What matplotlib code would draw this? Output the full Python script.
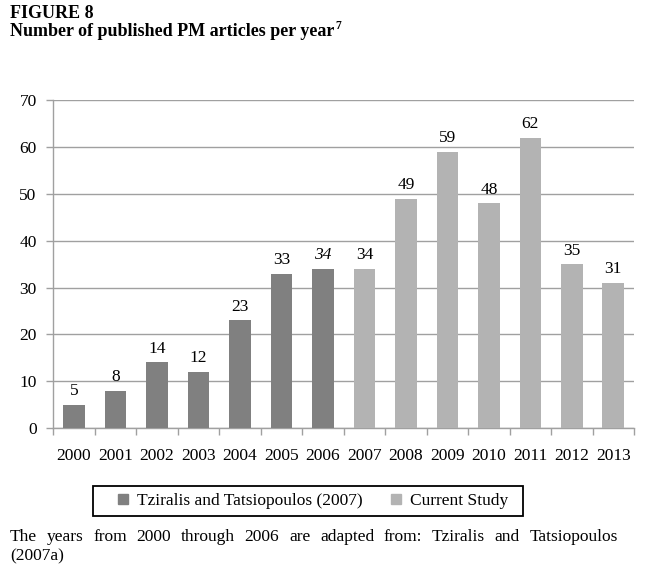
import matplotlib
matplotlib.use("Agg")
import matplotlib.pyplot as plt
from matplotlib.patches import Rectangle
from matplotlib.lines import Line2D
import numpy as np

years = ["2000", "2001", "2002", "2003", "2004", "2005", "2006",
         "2007", "2008", "2009", "2010", "2011", "2012", "2013"]
articles = [5, 8, 14, 12, 23, 33, 34, 34, 49, 59, 48, 62, 35, 31]
source = ["Tziralis and Tatsiopoulos (2007)"] * 7 + ["Current Study"] * 7
series_names = ["Tziralis and Tatsiopoulos (2007)", "Current Study"]
yticks = [0, 10, 20, 30, 40, 50, 60, 70]
title1 = "FIGURE 8"
title2 = "Number of published PM articles per year"
footnote = "7"
caption1 = "The years from 2000 through 2006 are adapted from: Tziralis and Tatsiopoulos"
caption2 = "(2007a)"

colors = {"Tziralis and Tatsiopoulos (2007)": "#808080", "Current Study": "#b3b3b3"}
SERIF = "Liberation Serif"
plt.rcParams["font.family"] = SERIF

W, H = 655, 575
fig = plt.figure(figsize=(W / 100, H / 100), dpi=100)
ax = fig.add_axes([53.3 / W, 1 - 428 / H, (634 - 53.3) / W, (428 - 100.3) / H])

x = np.arange(len(years))
bar_cols = [colors[s] for s in source]
ax.bar(x, articles, width=0.52, color=bar_cols, zorder=3)

for i, v in enumerate(articles):
    style = "italic" if years[i] == "2006" else "normal"
    ax.text(x[i], v + 1.2, str(v), ha="center", va="bottom", fontsize=12.5,
            style=style, zorder=4)

ax.set_xlim(-0.5, len(years) - 0.5)
ax.set_ylim(0, 70)
ax.set_yticks(yticks)
ax.set_yticklabels([str(t) for t in yticks])
ax.yaxis.grid(True, color="#a0a0a0", linewidth=1.0, zorder=0)
ax.set_xticks(x)
ax.set_xticklabels(years)
ax.set_xticks(np.arange(-0.5, len(years), 1.0), minor=True)
ax.tick_params(axis="x", which="major", length=0, pad=14.5, labelsize=12.5)
ax.tick_params(axis="x", which="minor", length=5, width=1.0, color="#a0a0a0", direction="out")
ax.tick_params(axis="y", length=5, width=1.0, color="#a0a0a0", pad=7, labelsize=12.5)
for side in ["top", "right"]:
    ax.spines[side].set_visible(False)
for side in ["left", "bottom"]:
    ax.spines[side].set_color("#a0a0a0")
    ax.spines[side].set_linewidth(1.0)

handles = [Line2D([0], [0], marker="s", linestyle="none", markersize=7,
                  markerfacecolor=colors[n], markeredgecolor=colors[n]) for n in series_names]
leg = fig.legend(handles, series_names, loc="center",
                 bbox_to_anchor=(311.5 / W, 1 - 501 / H), ncol=2, fontsize=12.5,
                 frameon=False, handlelength=1.0, handletextpad=0.3,
                 columnspacing=1.45, borderpad=0.0)
fig.patches.append(Rectangle((93 / W, 1 - 516 / H), (523 - 93) / W, 30 / H,
                             transform=fig.transFigure, fill=False,
                             edgecolor="black", linewidth=1.3))

# Titles
fig.text(10 / W, 1 - 13 / H, title1, fontsize=13, fontweight="bold", va="center", ha="left")
t2 = fig.text(10 / W, 1 - 32 / H, title2, fontsize=13, fontweight="bold", va="center", ha="left")
fig.canvas.draw()
r = fig.canvas.get_renderer()
bb = t2.get_window_extent(r)
fig.text((bb.x1 + 1) / W, 1 - 26 / H, footnote, fontsize=8.5, fontweight="bold",
         va="center", ha="left")

# Justified caption line
words = caption1.split(" ")
left, right = 10, 618
tmp = [fig.text(0, 0, w, fontsize=12.5) for w in words]
widths = [t.get_window_extent(r).width for t in tmp]
for t in tmp:
    t.remove()
gap = (right - left - sum(widths)) / (len(words) - 1)
xpos = left
for w, wd in zip(words, widths):
    fig.text(xpos / W, 1 - 537 / H, w, fontsize=12.5, va="center", ha="left")
    xpos += wd + gap
fig.text(left / W, 1 - 556 / H, caption2, fontsize=12.5, va="center", ha="left")

fig.savefig("out.png", dpi=100)
